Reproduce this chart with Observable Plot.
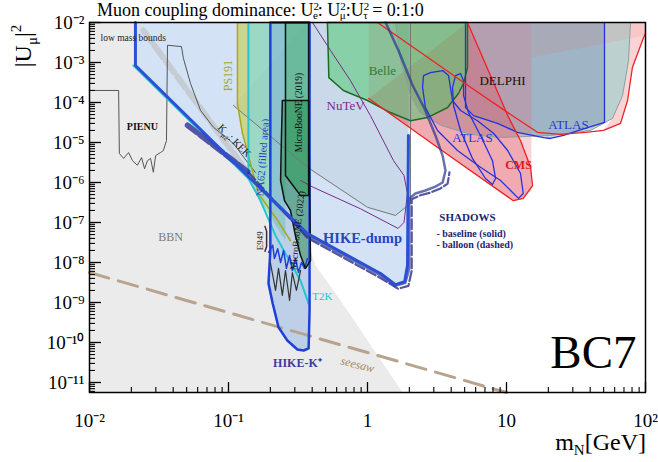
<!DOCTYPE html>
<html><head><meta charset="utf-8">
<script src="https://cdn.jsdelivr.net/npm/d3@7"></script>
<script src="https://cdn.jsdelivr.net/npm/@observablehq/plot@0.6"></script>
<style>body{margin:0;background:#fff}</style>
</head><body><div id="c"></div>
<script>
// ---- axis ticks ----
const xMajor = [0.01, 0.1, 1, 10, 100];
const xMajorLabels = ["10⁻²", "10⁻¹", "1", "10", "10²"];
const yMajor = [1e-2, 1e-3, 1e-4, 1e-5, 1e-6, 1e-7, 1e-8, 1e-9, 1e-10, 1e-11];
const yMajorLabels = ["10⁻²", "10⁻³", "10⁻⁴", "10⁻⁵", "10⁻⁶", "10⁻⁷", "10⁻⁸", "10⁻⁹", "10⁻¹⁰", "10⁻¹¹"];

// ---- regions: [mass GeV, |U_mu|^2] ----
const bbn = [[0.01,1e-2],[0.0214,1e-2],[0.0214,8.4e-4],[0.144,1.5e-6],[0.358,4.7e-8],[0.423,8.4e-9],[0.64,1.12e-9],[1.79,5.62e-12],[0.01,5.62e-12]];
const hikeDump = [[0.0214,1e-2],[0.0214,8.4e-4],[0.144,1.26e-6],[0.37,5.3e-8],[1.24,5.3e-9],[1.59,2.8e-9],[1.85,3.3e-9],[1.94,8.4e-9],[1.97,1.5e-5],[1.97,1e-2]];
const charm = [[0.1086,8.4e-5],[0.37,2.4e-6],[1.0,2.4e-7],[1.59,1.5e-7],[2.04,3e-7],[2.04,1e-2]];
const charmFill = [[0.1086,8.4e-5],[0.37,2.4e-6],[1.0,2.4e-7],[1.59,1.5e-7],[2.04,3e-7],[2.04,1e-2],[0.37,1e-2]];
const nutev = [[0.402,1e-2],[0.542,2e-3],[0.755,3.5e-4],[1.05,4.7e-5],[1.54,3.5e-6],[1.83,1.5e-6],[1.94,5.3e-7],[1.83,1e-7],[1.66,7.1e-8],[0.891,2.2e-7],[0.41,7.5e-7],[0.33,1.12e-6]];
const belle = [[0.515,1e-2],[0.527,4.2e-4],[0.671,2e-4],[1.0,1.12e-4],[1.46,5.6e-5],[2.04,3.5e-5],[2.70,4.2e-5],[3.77,7.5e-5],[4.52,1.7e-4],[4.91,3e-4],[5.24,7.5e-4],[5.24,1e-2]];
const delphi = [[1.59,1e-2],[1.73,1.12e-3],[2.04,1.5e-4],[2.40,5.6e-5],[3.35,2.7e-5],[5.51,1.6e-5],[9.06,1.33e-5],[20.7,1.5e-5],[40.2,2e-5],[57.9,4e-5],[68.4,1.5e-4],[75.5,1.12e-3],[78.0,1e-2]];
const atlasRight = [[5.07,1e-2],[5.07,7.5e-5],[5.79,4.7e-5],[8.61,3e-5],[12.0,1.8e-5],[18.5,1.33e-5],[20.7,1.26e-5],[25.7,1.5e-5],[35.8,2.2e-5],[50.7,3.2e-5],[50.7,1e-2]];
const atlasLoop1 = [[2.84,5.6e-4],[3.47,6.3e-4],[3.83,4.7e-4],[3.95,2.4e-4],[4.09,1.12e-4],[4.67,6.3e-5],[6.18,3.5e-5],[8.06,1.7e-5],[10.2,6.3e-6],[12.6,1.7e-6],[13.2,5.3e-7],[12.2,4e-7],[10.7,6.3e-7],[9.06,1.12e-6],[6.50,2.4e-6],[4.44,6.3e-6],[3.19,2e-5],[2.61,7.5e-5],[2.49,2.4e-4],[2.53,4.7e-4]];
const atlasLoop2 = [[4.30,4.7e-4],[4.67,5.3e-4],[4.91,3.5e-4],[4.91,1.5e-4],[5.33,5.6e-5],[6.50,1.5e-5],[7.93,3.5e-6],[8.34,1.26e-6],[7.93,8.9e-7],[7.06,1.26e-6],[5.69,4e-6],[4.67,2e-5],[4.16,8.4e-5],[4.09,2.4e-4]];
const cmsRect = [[1.02,1e-2],[1.02,1.26e-4],[3.35,6.7e-6],[11.2,3.5e-7],[13.2,4e-7],[15.1,6.3e-7],[15.1,1e-2]];
const cmsLower = [[1.02,1.26e-4],[3.35,6.7e-6],[11.2,3.5e-7],[13.2,4e-7],[15.4,8.4e-7],[14.9,2.4e-6],[12.6,1.12e-5],[10.2,4.7e-5],[7.67,4.7e-4],[5.24,1e-2]];
const cmsUpper = [[1.18,1e-2],[2.40,1.8e-3],[5.51,2.4e-4],[10.7,5e-5],[16.7,1.8e-5],[24.5,1.6e-5],[37.0,1.8e-5],[49.9,2e-5],[66.1,3e-5],[74.3,1.12e-4],[80.5,7.5e-4],[96.9,4.2e-3],[100,5.3e-3]];
const cmsTop = [[15.1,1e-2],[15.1,1.33e-3],[100,4.7e-3],[100,1e-2]];
const cmsRight = [[49.9,2e-5],[66.1,3e-5],[74.3,1.12e-4],[80.5,7.5e-4],[96.9,4.2e-3],[100,5.3e-3],[100,1e-2],[78.0,1e-2],[75.5,1.12e-3],[68.4,1.5e-4],[57.9,4e-5]];
const shadowsBaseline = [[0.139,1.4e-6],[0.37,4.7e-8],[1.24,4.8e-9],[1.59,2.6e-9],[1.87,3.1e-9],[2.0,7.1e-9],[2.0,4e-7],[2.21,5.3e-7],[2.61,6.3e-7],[3.08,7.9e-7],[3.47,1e-6],[3.64,2e-6],[3.47,4.7e-6],[3.08,1.5e-5],[2.57,7.1e-5],[2.11,2.7e-4],[1.67,2e-3],[1.35,1e-2]];
const shadowsBalloonLow = [[0.0507,2.7e-5],[0.139,1.8e-6]];
const shadowsBalloon = [[0.139,1.8e-6],[0.37,4.1e-8],[1.24,4.1e-9],[1.66,2.2e-9],[1.97,2.6e-9],[2.08,6.3e-9],[2.08,3.8e-7],[2.40,4.8e-7],[2.84,5.6e-7],[3.35,7.1e-7],[3.77,9.4e-7],[3.89,1.8e-6]];
const t2k = [[0.0207,8.4e-4],[0.139,1.26e-6],[0.170,3.5e-7],[0.218,4.7e-8],[0.279,1e-8],[0.33,3.5e-9],[0.377,9.4e-10]];
const ps191Fill = [[0.116,1e-2],[0.116,9.4e-5],[0.126,1.7e-5],[0.139,4.7e-6],[0.139,1e-2]];
const ps191Line = [[0.116,1e-2],[0.116,9.4e-5],[0.126,1.7e-5],[0.144,3e-6],[0.164,5.3e-7],[0.226,1.12e-7],[0.279,3.5e-8]];
const na62 = [[0.139,1e-2],[0.139,1.26e-6],[0.170,3.5e-7],[0.218,8.4e-8],[0.257,3.5e-8],[0.257,1e-2]];
const na62Edge = [[0.139,1e-2],[0.139,1.26e-6]];
const hikeK = [[0.2,1e-2],[0.2,2e-8],[0.194,3e-9],[0.208,9.4e-10],[0.229,2.4e-10],[0.265,1.12e-10],[0.313,6.7e-11],[0.347,6.3e-11],[0.377,7.1e-11],[0.383,6.3e-10],[0.383,1e-2]];
const hikeKJagged = [[0.194,1.8e-8],[0.208,2.7e-8],[0.214,1.26e-8],[0.226,2.2e-8],[0.237,1e-8],[0.249,2e-8],[0.261,7.1e-9],[0.275,1.5e-8],[0.288,6.3e-9],[0.303,1.26e-8],[0.319,5.6e-9],[0.335,1e-8],[0.352,7.1e-9],[0.37,1.26e-8]];
const e949 = [[0.2,1e-8],[0.218,2e-9],[0.229,7.1e-9],[0.244,1.5e-9],[0.257,6.3e-9],[0.275,1.12e-9],[0.288,5.6e-9],[0.308,2e-9],[0.33,6.3e-9]];
const e949Bracket = [[0.183,8e-8],[0.188,6e-8],[0.188,2.5e-8],[0.183,1.9e-8]];
const mb2019 = [[0.257,1e-2],[0.257,1.5e-6],[0.33,4.7e-7],[0.377,4.7e-7],[0.377,1e-2]];
const mb2022 = [[0.244,1.12e-4],[0.377,1.12e-4],[0.389,1.12e-8],[0.358,7.1e-9],[0.33,1.5e-8],[0.303,4.7e-8],[0.279,2e-7],[0.253,3.5e-7],[0.237,1.12e-6],[0.240,1.12e-5]];
const kmu2Band = [[0.0244,6.3e-3],[0.139,1.7e-6]];
const pienuKek = [[0.01,2e-4],[0.0162,2e-4],[0.0164,5.3e-6],[0.0176,4e-6],[0.0191,5.6e-6],[0.0204,3.5e-6],[0.0221,2.7e-6],[0.0237,4.2e-6],[0.0249,2.2e-6],[0.0261,3.5e-6],[0.0275,4e-6],[0.0288,1.8e-6],[0.0299,4.7e-6],[0.0324,5.6e-6],[0.034,6.3e-6],[0.0358,1.12e-5],[0.0364,2.7e-3],[0.0459,2.5e-3],[0.0474,1.26e-3],[0.0533,3e-4],[0.063,6.3e-5],[0.078,2.4e-5],[0.1086,9.4e-6],[0.137,3.2e-6],[0.156,1.8e-6]];
const seesaw = [[0.01,5.6e-9],[10,5.6e-12]];

// ---- text labels (position in data units) ----
const labels = [
  {key:"low", text:"low mass bounds", m:0.012, u:4e-3},
  {key:"pienu", text:"PIENU", m:0.024, u:2.5e-5},
  {key:"ps191", text:"PS191", m:0.1, u:4.7e-4},
  {key:"na62", text:"NA62 (filled area)", m:0.176, u:4.2e-6},
  {key:"mb19", text:"MicroBooNE (2019)", m:0.319, u:5.6e-5},
  {key:"mb22", text:"MicroBooNE (2022)", m:0.313, u:6.3e-8},
  {key:"nutev", text:"NuTeV", m:0.695, u:8.4e-5},
  {key:"belle", text:"Belle", m:1.28, u:6.3e-4},
  {key:"delphi", text:"DELPHI", m:9.36, u:3.5e-4},
  {key:"atlas1", text:"ATLAS", m:5.69, u:1.33e-5},
  {key:"atlas2", text:"ATLAS", m:27.9, u:2.8e-5},
  {key:"cms", text:"CMS", m:12.2, u:2.7e-6},
  {key:"hdump", text:"HIKE-dump", m:0.92, u:4e-8},
  {key:"shadows", text:"SHADOWS", m:5.24, u:1.3e-7},
  {key:"base", text:"- baseline (solid)", m:3.13, u:5.3e-8},
  {key:"balloon", text:"- balloon (dashed)", m:3.13, u:2.7e-8},
  {key:"bbn", text:"BBN", m:0.0383, u:4.2e-8},
  {key:"e949", text:"E949", m:0.170, u:3.5e-8},
  {key:"t2k", text:"T2K", m:0.474, u:1.4e-9},
  {key:"hikek", text:"HIKE-K⁺", m:0.313, u:3e-11},
  {key:"seesaw", text:"seesaw", m:0.847, u:2.8e-11},
  {key:"bc7", text:"BC7", m:100, u:5.6e-11}
];
const kekLabel = {m:0.107, u:9.4e-6};

const F = '"Liberation Serif","Times New Roman",serif';
const labelStyle = {
  low:{fill:"#222", fontSize:9.5, textAnchor:"start"},
  pienu:{fill:"#111", fontSize:10, fontWeight:"bold"},
  ps191:{fill:"#a8a828", fontSize:12, rotate:-90},
  na62:{fill:"#2540d0", fontSize:10.5, rotate:-86},
  mb19:{fill:"#111", fontSize:9.5, rotate:-90},
  mb22:{fill:"#111", fontSize:9.5, rotate:-84},
  nutev:{fill:"#7b2a8c", fontSize:13},
  belle:{fill:"#2e7d32", fontSize:13},
  delphi:{fill:"#111", fontSize:13},
  atlas1:{fill:"#2a35d8", fontSize:13},
  atlas2:{fill:"#2a35d8", fontSize:13},
  cms:{fill:"#e01818", fontSize:12, fontWeight:"bold"},
  hdump:{fill:"#2747c0", fontSize:14.5, fontWeight:"bold"},
  shadows:{fill:"#1f1f70", fontSize:11, fontWeight:"bold"},
  base:{fill:"#1f1f70", fontSize:10, fontWeight:"bold", textAnchor:"start"},
  balloon:{fill:"#1f1f70", fontSize:10, fontWeight:"bold", textAnchor:"start"},
  bbn:{fill:"#7a7a7a", fontSize:12},
  e949:{fill:"#111", fontSize:9, rotate:-90},
  t2k:{fill:"#22c4cc", fontSize:11},
  hikek:{fill:"#3c3ca0", fontSize:12, fontWeight:"bold"},
  seesaw:{fill:"#a88868", fontSize:12, fontStyle:"italic", rotate:14},
  bc7:{fill:"#000", fontSize:47, textAnchor:"end", dx:-9}
};

const X = d => d[0], Y = d => d[1];
const poly = (data, fill, op) => Plot.line(data, {x:X, y:Y, fill, fillOpacity:op, stroke:"none", curve:"linear-closed"});
const path = (data, stroke, w, extra={}) => Plot.line(data, {x:X, y:Y, stroke, strokeWidth:w, fill:"none", ...extra});
const closed = {curve:"linear-closed"};

const xMinor = [], yMinor = [];
for (let e = -2; e < 2; e++) for (let k = 2; k <= 9; k++) xMinor.push(k * Math.pow(10, e));
for (let e = -12; e < -2; e++) for (let k = 2; k <= 9; k++) { const v = k * Math.pow(10, e); if (v >= 5.62e-12 && v <= 1e-2) yMinor.push(v); }
const xFmt = new Map(xMajor.map((v, i) => [v, xMajorLabels[i]]));
const yFmt = new Map(yMajor.map((v, i) => [v, yMajorLabels[i]]));
const FW = 556, FH = 370; // inner plot area in px

const marks = [
  poly(bbn, "#ebebeb", 1),
  poly(hikeDump, "#d3e3f5", 1),
  poly(charmFill, "#8090a0", 0.12),
  poly(ps191Fill, "#c9c94a", 0.6),
  poly(na62, "#6fcf9f", 0.55),
  poly(hikeK, "#7aa8e0", 0.4),
  poly(mb2019, "#38b060", 0.55),
  poly(mb2022, "#22884a", 0.5),
  poly(delphi, "#8fb0b0", 0.6),
  poly(atlasRight, "#6a80b0", 0.35),
  poly(cmsRect, "#e07080", 0.3),
  poly(cmsLower, "#e04858", 0.3),
  poly(cmsTop, "#f07070", 0.13),
  poly(cmsRight, "#f07070", 0.3),
  poly(belle, "#45c765", 0.5),
  path(kmu2Band, "#bdbdbd", 6, {strokeDasharray:"14,5", strokeOpacity:0.6}),
  path(pienuKek, "#555", 1),
  path(seesaw, "#b8a48e", 3, {strokeDasharray:"20,10"}),
  path(charm, "#777", 1),
  path(nutev, "#7b2a8c", 1),
  path(ps191Line, "#a8a820", 1.5),
  path(t2k, "#25c6d0", 2),
  path(na62Edge, "#25c6d0", 2),
  path(hikeK, "#1c40d8", 2.5, closed),
  path(hikeKJagged, "#1c40d8", 1.5),
  path(e949, "#333", 1.2),
  path(e949Bracket, "#333", 1.5),
  path(mb2019, "#111", 1.5, closed),
  path(mb2022, "#111", 1.5, closed),
  path(belle, "#1f6b25", 1.5, closed),
  path(delphi, "#8aa0a0", 1),
  path(atlasRight, "#2233dd", 1.3),
  path(atlasLoop1, "#2233dd", 1.3, closed),
  path(atlasLoop2, "#2233dd", 1.3, closed),
  path(cmsUpper, "#ee2222", 1.3),
  path(cmsLower, "#ee2222", 1.3),
  path(shadowsBalloonLow, "#3a3a9e", 5.5, {strokeDasharray:"12,4", strokeOpacity:0.85}),
  path(shadowsBalloon, "#2c2c8c", 2.2, {strokeDasharray:"10,3", strokeOpacity:0.8}),
  path(shadowsBaseline, "#2a3590", 2.5, {strokeOpacity:0.7}),
  path(hikeDump.slice(0, 9), "#2a50d6", 3),
  ...labels.map(d => Plot.text([d], {x:"m", y:"u", text:"text", fontFamily:F, ...labelStyle[d.key]})),
  Plot.frame({stroke:"#000", strokeWidth:1.5}),
  Plot.tickX(xMajor, {x:d => d, insetTop:FH - 10, stroke:"#000", strokeWidth:1.3}),
  Plot.tickX(xMinor, {x:d => d, insetTop:FH - 5, stroke:"#000", strokeWidth:1.1}),
  Plot.tickY(yMajor, {y:d => d, insetRight:FW - 12, stroke:"#000", strokeWidth:1.3}),
  Plot.tickY(yMinor, {y:d => d, insetRight:FW - 6, stroke:"#000", strokeWidth:1.1})
];

const chart = Plot.plot({
  width:658, height:462,
  marginLeft:89, marginRight:13, marginTop:22, marginBottom:70,
  style:{fontFamily:F, fontSize:"19px", background:"#fff", color:"#000"},
  x:{type:"log", domain:[0.01, 100], ticks:xMajor, tickFormat:d => xFmt.get(d), tickSize:0, tickPadding:21, label:null},
  y:{type:"log", domain:[5.62e-12, 1e-2], ticks:yMajor, tickFormat:d => yFmt.get(d), tickSize:0, tickPadding:5, label:null},
  marks
});
document.getElementById("c").appendChild(chart);

// ---- labels with sub/superscripts ----
const svg = d3.select(chart);
function rich(parent, parts, attrs) {
  const t = parent.append("text").attr("font-family", F).attr("text-anchor", "start");
  for (const [k, v] of Object.entries(attrs)) t.attr(k, v);
  for (const p of parts) {
    const s = t.append("tspan").text(p.t);
    if (p.size) s.attr("font-size", p.size);
    if (p.dy) s.attr("dy", p.dy);
    if (p.dx) s.attr("dx", p.dx);
  }
  return t;
}
rich(svg, [
  {t:"Muon coupling dominance: U"}, {t:"2", size:11, dy:-6}, {t:"e", size:11, dx:-6, dy:9},
  {t:": U", dy:-3}, {t:"2", size:11, dy:-6}, {t:"μ", size:11, dx:-6, dy:9},
  {t:":U", dy:-3}, {t:"2", size:11, dy:-6}, {t:"τ", size:11, dx:-6, dy:9},
  {t:" = 0:1:0", dy:-3}
], {x:97, y:16, "font-size":18, fill:"#000"});
rich(svg, [{t:"|U"}, {t:"μ", size:15, dy:6}, {t:"|", dy:-6}, {t:"2", size:15, dy:-10}],
  {transform:"translate(31,46) rotate(-90)", "text-anchor":"middle", "font-size":24, fill:"#000"});
rich(svg, [{t:"m"}, {t:"N", size:15, dy:5}, {t:"[GeV]", dy:-5}],
  {x:646, y:450, "text-anchor":"end", "font-size":24, fill:"#000"});
const sx = chart.scale("x"), sy = chart.scale("y");
const kx = sx.apply(kekLabel.m), ky = sy.apply(kekLabel.u);
rich(svg, [{t:"K"}, {t:"μ2", size:7, dy:3}, {t:": KEK", dy:-3}],
  {transform:`translate(${kx},${ky}) rotate(45)`, "text-anchor":"middle", "font-size":10.5, fill:"#222"});
</script>
</body></html>
